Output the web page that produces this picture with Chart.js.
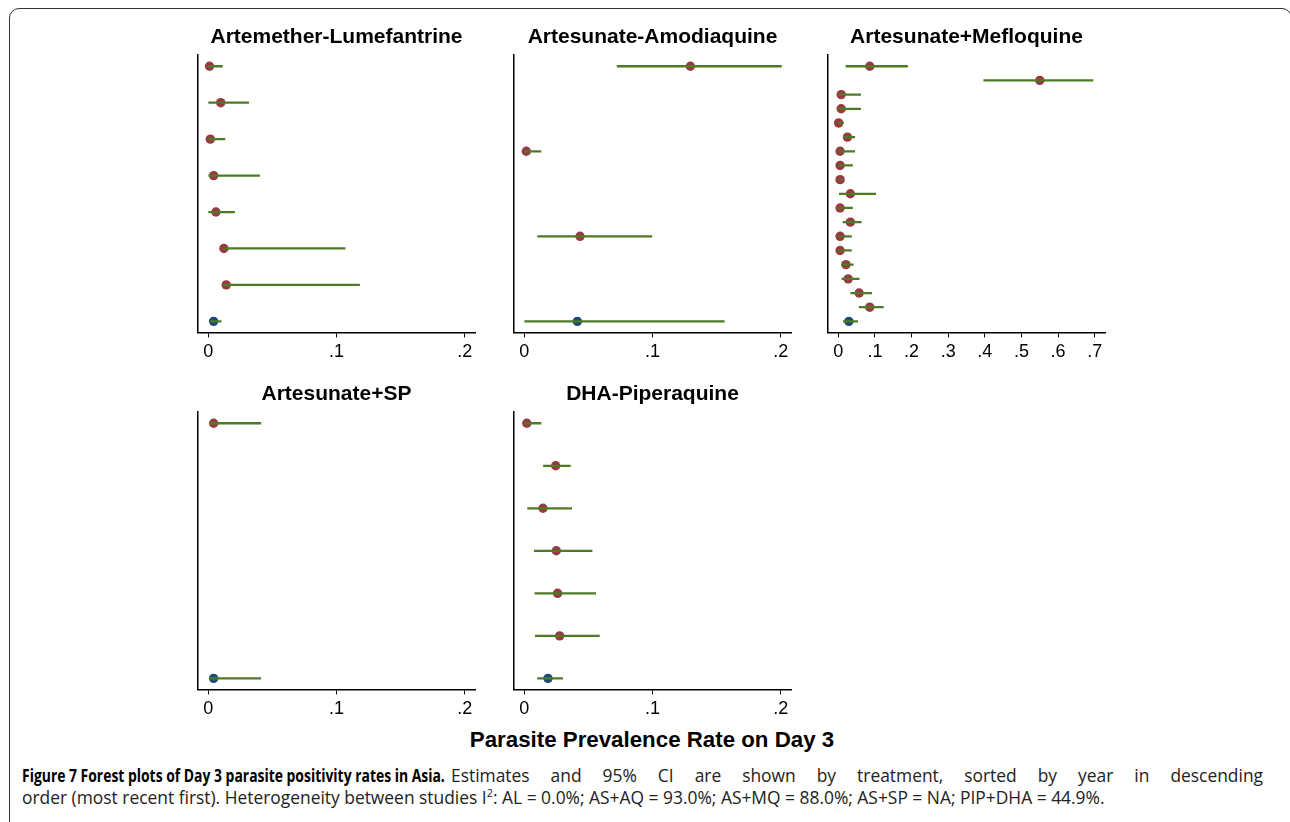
<!DOCTYPE html>
<html lang="en">
<head>
  <meta charset="UTF-8" />
  <title>Figure 7 - Day 3 parasite positivity, Asia</title>
  <script src="https://cdn.jsdelivr.net/npm/chart.js"></script>
  <style>
    html, body {
      margin: 0;
      padding: 0;
      background: #fff;
      width: 1290px;
      height: 822px;
      overflow: hidden;
    }
    .frame {
      position: absolute;
      left: 9px;
      top: 8px;
      width: 1283px;
      height: 840px;
      border: 1.5px solid #333;
      border-radius: 10px;
      box-sizing: border-box;
    }
    .panel {
      position: absolute;
      width: 300px;
      height: 352px;
    }
    .xtitle {
      position: absolute;
      left: 0;
      top: 727px;
      width: 1304px;
      text-align: center;
      font-family: 'Liberation Sans', Arial, sans-serif;
      font-weight: bold;
      font-size: 22.3px;
      line-height: 26px;
      color: #000;
    }
    .caption {
      position: absolute;
      left: 22px;
      top: 764px;
      width: 1241px;
      font-family: 'Open Sans', sans-serif;
      font-size: 17.4px;
      line-height: 22px;
      color: #222;
    }
    .caption .l1 { text-align: justify; text-align-last: justify; }
    .caption .fig { display: inline-block; width: 429px; white-space: nowrap; color: #000; }
    .caption .fig span { display: inline-block; transform: scaleX(0.8); transform-origin: 0 50%; }
    .caption sup { font-size: 11px; line-height: 0; }
  </style>
</head>
<body>
  <div class="frame"></div>

  <div class="panel" style="left:188px; top:15px;"><canvas id="chartAL"></canvas></div>
  <div class="panel" style="left:504px; top:15px;"><canvas id="chartAQ"></canvas></div>
  <div class="panel" style="left:818px; top:15px;"><canvas id="chartMQ"></canvas></div>
  <div class="panel" style="left:188px; top:372px;"><canvas id="chartSP"></canvas></div>
  <div class="panel" style="left:504px; top:372px;"><canvas id="chartDHA"></canvas></div>

  <div class="xtitle">Parasite Prevalence Rate on Day 3</div>
  <div class="caption">
    <div class="l1"><b class="fig"><span>Figure 7 Forest plots of Day 3 parasite positivity rates in Asia.</span></b>Estimates and 95% CI are shown by treatment, sorted by year in descending</div>
    <div>order (most recent first). Heterogeneity between studies I<sup>2</sup>: AL = 0.0%; AS+AQ = 93.0%; AS+MQ = 88.0%; AS+SP = NA; PIP+DHA = 44.9%.</div>
  </div>

  <script>
    // each panel: study estimates top to bottom, pooled estimate last
    const alEst = [0.001, 0.0097, 0.0016, 0.0042, 0.006, 0.0122, 0.014, 0.0042];
    const alLo  = [0.0, 0.0003, 0.0, 0.0, 0.0003, 0.011, 0.012, 0.0016];
    const alHi  = [0.011, 0.0315, 0.013, 0.040, 0.0206, 0.1067, 0.118, 0.010];

    const aqEst = [0.1295, 0.0016, 0.0435, 0.0414];
    const aqLo  = [0.0724, 0.0, 0.0104, 0.0];
    const aqHi  = [0.2005, 0.013, 0.0995, 0.156];

    const mqEst = [0.086, 0.55, 0.008, 0.008, 0.001, 0.025, 0.005, 0.005, 0.005, 0.033,
                   0.005, 0.033, 0.005, 0.005, 0.021, 0.027, 0.057, 0.086, 0.029];
    const mqLo  = [0.021, 0.397, 0.0, 0.0, 0.0, 0.016, 0.0, 0.0, 0.0, 0.003,
                   0.0, 0.013, 0.0, 0.0, 0.009, 0.010, 0.034, 0.057, 0.014];
    const mqHi  = [0.189, 0.695, 0.061, 0.061, 0.014, 0.045, 0.045, 0.039, 0.012, 0.102,
                   0.039, 0.063, 0.036, 0.036, 0.041, 0.057, 0.091, 0.123, 0.053];

    const spEst = [0.0042, 0.0042];
    const spLo  = [0.001, 0.001];
    const spHi  = [0.041, 0.041];

    const dhaEst = [0.002, 0.0245, 0.0146, 0.025, 0.026, 0.0276, 0.0185];
    const dhaLo  = [0.0, 0.015, 0.0026, 0.0078, 0.0083, 0.0086, 0.0104];
    const dhaHi  = [0.013, 0.036, 0.037, 0.0529, 0.0557, 0.0586, 0.030];

    const ticksSmall = [0, 0.1, 0.2];
    const ticksMq = [0, 0.1, 0.2, 0.3, 0.4, 0.5, 0.6, 0.7];

    const ciGreen = '#4d7a26';
    const studyRed = '#983b40';
    const pooledBlue = '#1c4b78';

    Chart.defaults.font.family = "'Liberation Sans', Arial, sans-serif";
    Chart.defaults.color = '#000';

    const PLOT_H = 276; // px height of each plot region
    const GAP = 11;     // px gap between axis ends and first/last row

    function fmtTick(v) {
      return v === 0 ? '0' : String(v).replace(/^0/, '');
    }

    function forestPanel(id, title, est, lo, hi, ticks) {
      const n = est.length;
      const rows = est.map((_, i) => i);
      const span = ticks[ticks.length - 1] - ticks[0];
      const xpad = span * 0.04;
      const ym = n > 1 ? GAP * (n - 1) / (PLOT_H - 2 * GAP) : 0.5;

      new Chart(document.getElementById(id), {
        type: 'scatter',
        data: {
          datasets: [
            {
              type: 'bar',
              indexAxis: 'y',
              data: rows.map(i => ({ x: [lo[i], hi[i]], y: i })),
              backgroundColor: ciGreen,
              borderWidth: 0,
              barThickness: 1.6,
              order: 0,
            },
            {
              type: 'scatter',
              data: rows.map(i => ({ x: est[i], y: i })),
              pointRadius: 4.7,
              pointBorderWidth: 0,
              pointBackgroundColor: rows.map(i => (i === n - 1 ? pooledBlue : studyRed)),
              order: 1,
            },
          ],
        },
        options: {
          responsive: true,
          maintainAspectRatio: false,
          animation: false,
          layout: { padding: { left: 10, right: 13, top: 2, bottom: 0 } },
          plugins: {
            legend: { display: false },
            tooltip: { enabled: false },
            title: {
              display: true,
              text: title,
              color: '#000',
              font: { size: 21, weight: 'bold' },
              padding: { top: 8, bottom: 5 },
            },
          },
          scales: {
            x: {
              type: 'linear',
              min: ticks[0] - xpad,
              max: ticks[ticks.length - 1] + xpad,
              afterBuildTicks: s => { s.ticks = ticks.map(v => ({ value: v })); },
              ticks: {
                callback: fmtTick,
                color: '#000',
                font: { size: 18 },
                maxRotation: 0,
                autoSkip: false,
                padding: 4,
              },
              grid: { drawOnChartArea: false, tickLength: 5, color: '#000', lineWidth: 1 },
              border: { color: '#000', width: 1.5 },
            },
            y: {
              type: 'linear',
              reverse: true,
              offset: false,
              min: -ym,
              max: n - 1 + ym,
              ticks: { display: false },
              grid: { display: false, drawTicks: false, offset: false },
              border: { color: '#000', width: 1.5 },
            },
          },
        },
      });
    }

    forestPanel('chartAL', 'Artemether-Lumefantrine', alEst, alLo, alHi, ticksSmall);
    forestPanel('chartAQ', 'Artesunate-Amodiaquine', aqEst, aqLo, aqHi, ticksSmall);
    forestPanel('chartMQ', 'Artesunate+Mefloquine', mqEst, mqLo, mqHi, ticksMq);
    forestPanel('chartSP', 'Artesunate+SP', spEst, spLo, spHi, ticksSmall);
    forestPanel('chartDHA', 'DHA-Piperaquine', dhaEst, dhaLo, dhaHi, ticksSmall);
  </script>
</body>
</html>
